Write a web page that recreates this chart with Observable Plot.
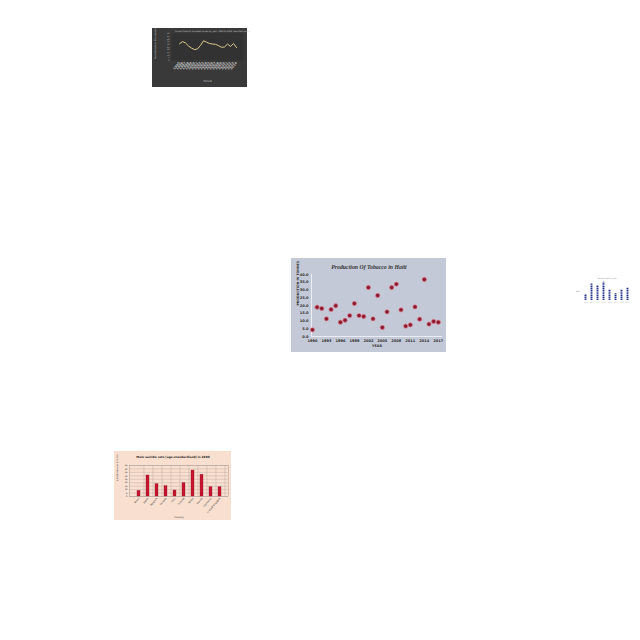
<!DOCTYPE html>
<html>
<head>
<meta charset="utf-8">
<script src="https://cdn.jsdelivr.net/npm/d3@7"></script>
<script src="https://cdn.jsdelivr.net/npm/@observablehq/plot@0.6"></script>
<style>
  html, body { margin: 0; padding: 0; background: #ffffff; width: 640px; height: 640px; overflow: hidden; }
  .panel { position: absolute; }
  .panel svg { display: block; }
</style>
</head>
<body>
<div id="dark" class="panel" style="left:152px; top:28px; width:95px; height:59px;"></div>
<div id="main" class="panel" style="left:291px; top:258px; width:155px; height:94px;"></div>
<div id="side" class="panel" style="left:572px; top:273px; width:63px; height:33px;"></div>
<div id="pink" class="panel" style="left:114px; top:451px; width:117px; height:69px;"></div>
<script>
// ---------- Main chart: Production Of Tobacco in Haiti ----------
const tobaccoYears = [1990, 1991, 1992, 1993, 1994, 1995, 1996, 1997, 1998, 1999,
                      2000, 2001, 2002, 2003, 2004, 2005, 2006, 2007, 2008, 2009,
                      2010, 2011, 2012, 2013, 2014, 2015, 2016, 2017];
const tobaccoTonnes = [4.3, 18.9, 18.1, 11.4, 17.4, 19.8, 9.2, 10.5, 13.5, 21.3,
                       13.5, 12.9, 31.6, 11.4, 26.5, 5.8, 15.9, 31.6, 33.8, 17.2,
                       6.7, 7.5, 19.1, 11.2, 36.8, 8.0, 9.7, 9.2];
const tobaccoYTicks = [0, 5, 10, 15, 20, 25, 30, 35, 40];
const tobaccoXTicks = [1990, 1993, 1996, 1999, 2002, 2005, 2008, 2011, 2014, 2017];

// ---------- Top-left dark line chart ----------
const darkLabels = ["1995", "1996", "1997", "1998", "1999", "2000", "2001", "2002", "2003", "2004",
                    "2005", "2006", "2007", "2008", "2009", "2010", "2011", "2012", "2013", "2014"];
const darkValues = [30.9, 35, 32.5, 27, 23, 20.2, 21.5, 28, 36.5, 34,
                    31.5, 30.5, 30, 27.5, 24.5, 25, 30.5, 26, 31.5, 24];
const darkYTicks = [0, 5, 10, 15, 20, 25, 30, 35, 40, 45, 50];

// ---------- Bottom-left: Male suicide rate ----------
const suicideCountries = ["Brazil", "Japan", "Belgium", "Canada", "Italy", "Finland",
                          "Korea", "Russia", "Germany", "United Kingdom"];
const suicideRates = [8.2, 30.5, 17.9, 15.0, 8.7, 19.4, 37.7, 31.5, 13.5, 13.5];
const suicideYTicks = [0, 5, 10, 15, 20, 25, 30, 35, 40, 45];

// ---------- Right: small dotted bar chart ----------
const sideLabels = ["2010", "2011", "2012", "2013", "2014", "2015", "2016", "2017"];
const sideValues = [6.3, 17.6, 15.8, 19.3, 11.3, 7.7, 11.3, 13.4];

// ===== Main chart =====
const tob = tobaccoYears.map((y, i) => ({year: y, tonnes: tobaccoTonnes[i]}));
const xLo = 1989.8;
document.getElementById("main").append(Plot.plot({
  width: 155, height: 94,
  marginLeft: 20, marginRight: 4, marginTop: 16, marginBottom: 16,
  x: {domain: [xLo, 2017.9], axis: null},
  y: {domain: [0, 40], axis: null},
  style: {background: "#c3c9d6", fontFamily: "DejaVu Sans", fontSize: "4px", color: "#2f2f2f", fontWeight: "bold", overflow: "visible"},
  marks: [
    Plot.ruleY([0], {stroke: "#f4f6fa", strokeWidth: 0.8}),
    Plot.ruleX([xLo], {stroke: "#f4f6fa", strokeWidth: 0.8}),
    Plot.axisY({ticks: tobaccoYTicks, tickSize: 0, tickPadding: 3, tickFormat: d3.format(".1f"), label: null, fontSize: 3.6}),
    Plot.axisX({ticks: tobaccoXTicks, tickSize: 0, tickPadding: 3, tickFormat: d => String(d), label: null, fontSize: 3.6}),
    Plot.dot(tob, {x: "year", y: "tonnes", r: 2.2, fill: "#8e1a30", stroke: "#e08a9c", strokeWidth: 0.7}),
    Plot.text(["Production Of Tobacco in Haiti"], {frameAnchor: "top", dy: -10, dx: -8, fontFamily: "Liberation Serif", fontStyle: "italic", fontWeight: "bold", fontSize: 5.8, fill: "#333"}),
    Plot.text(["PRODUCTION IN TONNES"], {frameAnchor: "left", dx: -14, rotate: -90, fontSize: 3.2, fill: "#333"}),
    Plot.text(["YEAR"], {frameAnchor: "bottom", dy: 10, fontSize: 3.4, fill: "#333"})
  ]
}));

// ===== Dark chart =====
const dark = darkLabels.map((l, i) => ({label: l, value: darkValues[i]}));
document.getElementById("dark").append(Plot.plot({
  width: 95, height: 59,
  marginLeft: 19, marginRight: 4, marginTop: 5, marginBottom: 27,
  x: {type: "point", domain: darkLabels, padding: 0.27, axis: null},
  y: {domain: [0, 50], axis: null},
  style: {background: "#393939", fontFamily: "DejaVu Sans", fontSize: "2px", color: "#c4c4c4", overflow: "visible"},
  marks: [
    Plot.frame({fill: "#323232"}),
    Plot.axisY({ticks: darkYTicks, tickSize: 0, tickPadding: 2, label: null, fontSize: 1.9}),
    Plot.axisX({tickSize: 0, tickPadding: 2, tickRotate: -50, label: null, fontSize: 3.2, fontWeight: "bold"}),
    Plot.line(dark, {x: "label", y: "value", stroke: "#dccd8e", strokeWidth: 1}),
    Plot.text(["Annual trend of recorded values by year, 1995 to 2014 (selected series)"], {frameAnchor: "top", dy: -3, dx: 5, fontSize: 2.1, fill: "#c8c8c8"}),
    Plot.text(["Recorded value (thousands)"], {frameAnchor: "left", dx: -16, dy: 12, rotate: -90, fontSize: 2.2, fill: "#bbbbbb"}),
    Plot.text(["Period"], {frameAnchor: "bottom", dy: 21, fontSize: 2.6, fill: "#cccccc"})
  ]
}));

// ===== Pink chart =====
const sui = suicideCountries.map((c, i) => ({country: c, rate: suicideRates[i]}));
const pinkStep = (117 - 15 - 3) / suicideCountries.length;
document.getElementById("pink").append(Plot.plot({
  width: 117, height: 69,
  marginLeft: 15, marginRight: 3, marginTop: 14, marginBottom: 24,
  x: {type: "band", domain: suicideCountries, padding: 0.72, axis: null},
  y: {domain: [0, 45], axis: null},
  style: {background: "#f9dfcf", fontFamily: "DejaVu Sans", fontSize: "2.5px", color: "#333", overflow: "visible"},
  marks: [
    Plot.ruleY(suicideYTicks, {stroke: "#b4a59e", strokeWidth: 0.4}),
    Plot.ruleX(suicideCountries, {stroke: "#b4a59e", strokeWidth: 0.4, dx: pinkStep / 2}),
    Plot.frame({stroke: "#a89a94", strokeWidth: 0.5}),
    Plot.barY(sui, {x: "country", y: "rate", fill: "#c8142f", stroke: "#7d0a1c", strokeWidth: 0.3}),
    Plot.axisY({ticks: suicideYTicks, tickSize: 0, tickPadding: 2, label: null, fontSize: 2.2}),
    Plot.axisX({tickSize: 0, tickPadding: 1.5, tickRotate: -50, label: null, fontSize: 2.4}),
    Plot.text(["Male suicide rate (age-standardised) in 2009"], {frameAnchor: "top", dy: -10, dx: -6, fontWeight: "bold", fontSize: 2.9, fill: "#222"}),
    Plot.text(["suicide rate per 100,000"], {frameAnchor: "left", dx: -12, rotate: -90, fontSize: 2.2, fill: "#333"}),
    Plot.text(["Country"], {frameAnchor: "bottom", dy: 21, fontSize: 2.4, fill: "#333"})
  ]
}));

// ===== Side chart =====
const side = sideLabels.map((l, i) => ({label: l, value: sideValues[i]}));
document.getElementById("side").append(Plot.plot({
  width: 63, height: 33,
  marginLeft: 6.6, marginRight: 2.4, marginTop: 8, marginBottom: 6,
  x: {type: "band", domain: sideLabels, padding: 0, axis: null},
  y: {domain: [0, 20], axis: null},
  style: {background: "#ffffff", fontFamily: "DejaVu Sans", fontSize: "1.6px", color: "#999", overflow: "visible"},
  marks: [
    Plot.ruleX(side, {x: "label", y1: 0, y2: "value", stroke: "#26338a", strokeWidth: 1.9, strokeDasharray: "1.3,0.5"}),
    Plot.axisX({tickSize: 0, tickPadding: 1.5, label: null, fontSize: 1.6}),
    Plot.text(["Annual total by year"], {frameAnchor: "top", dy: -4, dx: 1, fontSize: 1.9, fill: "#888"}),
    Plot.text(["Total"], {frameAnchor: "left", dx: -3.5, fontSize: 1.8, fill: "#777"})
  ]
}));
</script>
</body>
</html>
